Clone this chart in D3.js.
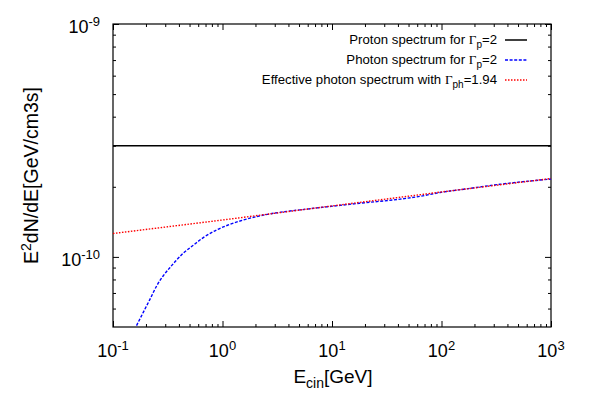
<!DOCTYPE html>
<html>
<head>
<meta charset="utf-8">
<script src="https://cdn.jsdelivr.net/npm/d3@7"></script>
<style>
  body { margin: 0; background: #fff; }
  svg { font-family: "Liberation Sans", Arial, Helvetica, sans-serif; }
</style>
</head>
<body>
<svg id="chart" width="593" height="415"></svg>
<script>
// values (E in GeV, E^2 dN/dE in GeV/cm3s)
const protonE = [0.1, 1000];
const protonFlux = [3.0e-10, 3.0e-10];

const photonE = [0.164, 0.189, 0.218, 0.251, 0.288, 0.332, 0.382, 0.439, 0.541, 0.668, 0.885,
  1.17, 1.55, 2.05, 2.72, 6.3, 18, 41.8, 63.7, 96.9, 170, 342, 1000];
const photonFlux = [5.07e-11, 5.78e-11, 6.59e-11, 7.52e-11, 8.30e-11, 9.01e-11, 9.71e-11, 1.038e-10,
  1.122e-10, 1.21e-10, 1.306e-10, 1.38e-10, 1.44e-10, 1.49e-10, 1.53e-10, 1.61e-10, 1.70e-10,
  1.77e-10, 1.82e-10, 1.89e-10, 1.96e-10, 2.05e-10, 2.16e-10];

const effE = [0.1, 1, 10, 100, 1000];
const effFlux = [1.26e-10, 1.44e-10, 1.655e-10, 1.90e-10, 2.17e-10];

const xMajor = [0.1, 1, 10, 100, 1000];
const xMajorExp = ["-1", "0", "1", "2", "3"];
const yMajor = [1e-10, 1e-9];
const yMajorExp = ["-10", "-9"];

// legend: [main text, Γ subscript, tail]
const legendRows = [
  ["Proton spectrum for ", "p", "=2"],
  ["Photon spectrum for ", "p", "=2"],
  ["Effective photon spectrum with ", "ph", "=1.94"],
];

const svg = d3.select("#chart");
const pLeft = 113, pRight = 551, pTop = 24, pBottom = 327;

const x = d3.scaleLog().domain([0.1, 1000]).range([pLeft, pRight]);
const y = d3.scaleLog().domain([5e-11, 1e-9]).range([pBottom, pTop]);

const xMinor = [];
for (let p = -1; p < 3; p++) for (let k = 2; k < 10; k++) xMinor.push(k * Math.pow(10, p));
const yMinor = [];
for (let p = -11; p < -9; p++) for (let k = 2; k < 10; k++) {
  const v = k * Math.pow(10, p);
  if (v > 5e-11 && v < 1e-9) yMinor.push(v);
}

svg.append("defs").append("clipPath").attr("id", "clip")
  .append("rect").attr("x", pLeft).attr("y", pTop).attr("width", pRight - pLeft).attr("height", pBottom - pTop);

// ticks (inward, mirrored)
function ticks(axis, vals, size, transform) {
  const g = svg.append("g").attr("transform", transform)
    .call(axis.tickValues(vals).tickSize(-size).tickFormat(""));
  g.select(".domain").remove();
  g.selectAll("line").attr("stroke", "#000").attr("stroke-width", 1);
}
ticks(d3.axisBottom(x), xMajor, 6, `translate(0,${pBottom})`);
ticks(d3.axisBottom(x), xMinor, 3, `translate(0,${pBottom})`);
ticks(d3.axisTop(x), xMajor, 6, `translate(0,${pTop})`);
ticks(d3.axisTop(x), xMinor, 3, `translate(0,${pTop})`);
ticks(d3.axisLeft(y), yMajor, 6, `translate(${pLeft},0)`);
ticks(d3.axisLeft(y), yMinor, 3, `translate(${pLeft},0)`);
ticks(d3.axisRight(y), yMajor, 6, `translate(${pRight},0)`);
ticks(d3.axisRight(y), yMinor, 3, `translate(${pRight},0)`);

svg.append("rect").attr("x", pLeft).attr("y", pTop)
  .attr("width", pRight - pLeft).attr("height", pBottom - pTop)
  .attr("fill", "none").attr("stroke", "#000").attr("stroke-width", 1.2);

// tick labels with superscripts
xMajor.forEach((v, i) => {
  const t = svg.append("text").attr("x", x(v)).attr("y", pBottom + 30)
    .attr("text-anchor", "middle").attr("font-size", 18);
  t.append("tspan").text("10");
  t.append("tspan").attr("dy", -7).attr("font-size", 13).text(xMajorExp[i]);
});
yMajor.forEach((v, i) => {
  const t = svg.append("text").attr("x", 100).attr("y", y(v) + 9)
    .attr("text-anchor", "end").attr("font-size", 18);
  t.append("tspan").text("10");
  t.append("tspan").attr("dy", -7).attr("font-size", 13).text(yMajorExp[i]);
});

// axis titles
const xt = svg.append("text").attr("x", 333).attr("y", 383)
  .attr("text-anchor", "middle").attr("font-size", 19);
xt.append("tspan").text("E");
xt.append("tspan").attr("dy", 4.5).attr("font-size", 14).text("cin");
xt.append("tspan").attr("dy", -4.5).text("[GeV]");

const yt = svg.append("text").attr("transform", `translate(38,${(pTop + pBottom) / 2}) rotate(-90)`)
  .attr("text-anchor", "middle").attr("font-size", 19.5);
yt.append("tspan").text("E");
yt.append("tspan").attr("dy", -7.5).attr("font-size", 14).text("2");
yt.append("tspan").attr("dy", 7.5).text("dN/dE[GeV/cm3s]");

// series
const line = d3.line().x(d => x(d[0])).y(d => y(d[1]));
const series = [
  { e: protonE, f: protonFlux, color: "#000", dash: null, width: 1.5 },
  { e: photonE, f: photonFlux, color: "#0000ff", dash: "3,1.6", width: 1.4, curve: d3.curveMonotoneX },
  { e: effE, f: effFlux, color: "#ff0000", dash: "1.5,1.5", width: 1.4 },
];
const plot = svg.append("g").attr("clip-path", "url(#clip)");
series.forEach(s => {
  const pts = s.e.map((e, i) => [e, s.f[i]]);
  plot.append("path").attr("d", line.curve(s.curve || d3.curveLinear)(pts))
    .attr("fill", "none").attr("stroke", s.color).attr("stroke-width", s.width)
    .attr("stroke-dasharray", s.dash);
});

// legend
const rowY = [44, 64, 84];
legendRows.forEach((r, i) => {
  const t = svg.append("text").attr("x", 497).attr("y", rowY[i])
    .attr("text-anchor", "end").attr("font-size", 13.2);
  t.append("tspan").text(r[0]);
  t.append("tspan").attr("font-family", "'Liberation Serif', serif").text("Γ");
  t.append("tspan").attr("dy", 3.5).attr("font-size", 10).text(r[1]);
  t.append("tspan").attr("dy", -3.5).text(r[2]);
  const s = series[i];
  svg.append("line").attr("x1", 505).attr("x2", 527)
    .attr("y1", rowY[i] - 4).attr("y2", rowY[i] - 4)
    .attr("stroke", s.color).attr("stroke-width", s.width)
    .attr("stroke-dasharray", s.dash);
});
</script>
</body>
</html>
